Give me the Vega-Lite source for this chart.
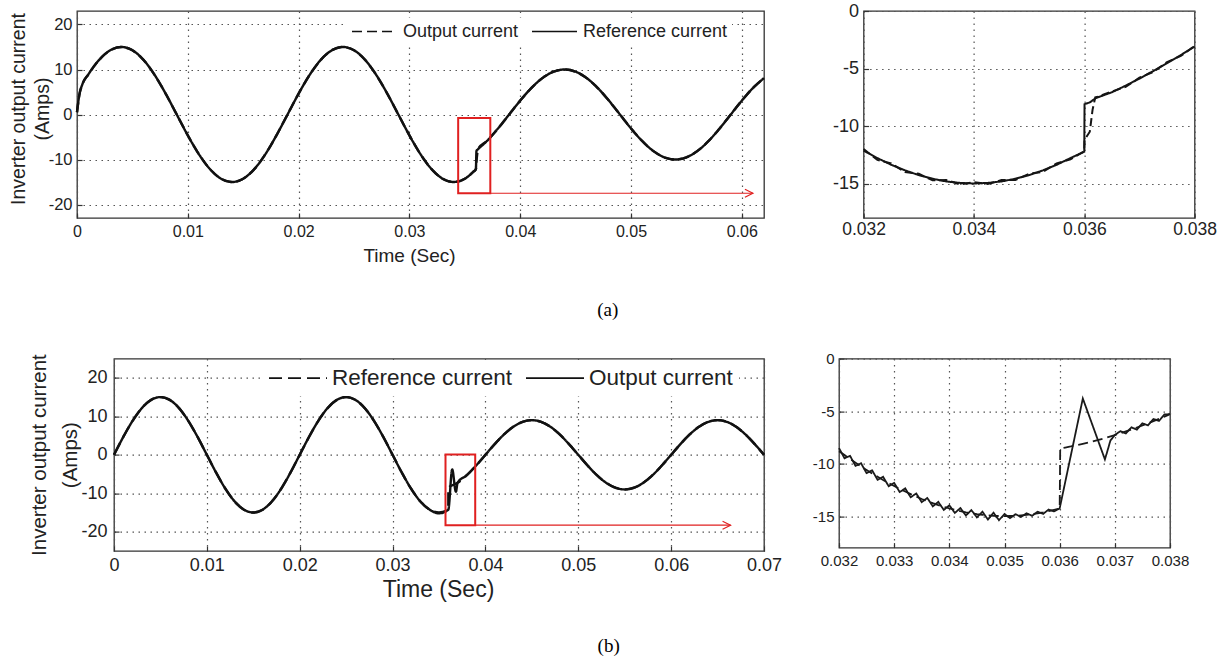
{
  "$schema": "https://vega.github.io/schema/vega-lite/v6.json",
  "background": "white",
  "padding": {"left": 7, "top": 1, "right": 0, "bottom": 0},
  "bounds": "flush",
  "spacing": 347.6,
  "resolve": {"scale": {"strokeDash": "independent"}, "legend": {"strokeDash": "independent"}},
  "config": {
    "font": "Liberation Sans",
    "view": {"stroke": "#333", "strokeWidth": 1.3},
    "axis": {
      "domain": false, "grid": true, "gridColor": "#555", "gridDash": [1.5, 4.5], "gridWidth": 1.2,
      "tickColor": "#333", "tickSize": -5, "tickWidth": 1.2,
      "labelColor": "#222", "titleColor": "#222", "labelFlush": false, "labelOverlap": false,
      "titleFontWeight": "normal"
    }
  },
  "datasets": {
    "mainA": [
      {"t": 0, "Output current": 0.5, "Reference current": 0.5},
      {"t": 0.0002, "Output current": 4.2, "Reference current": 4.2},
      {"t": 0.0005, "Output current": 6.81, "Reference current": 6.81},
      {"t": 0.001, "Output current": 8.82, "Reference current": 8.82},
      {"t": 0.002, "Output current": 12.14, "Reference current": 12.14},
      {"t": 0.003, "Output current": 14.27, "Reference current": 14.27},
      {"t": 0.004, "Output current": 15, "Reference current": 15},
      {"t": 0.005, "Output current": 14.27, "Reference current": 14.27},
      {"t": 0.006, "Output current": 12.14, "Reference current": 12.14},
      {"t": 0.007, "Output current": 8.82, "Reference current": 8.82},
      {"t": 0.008, "Output current": 4.64, "Reference current": 4.64},
      {"t": 0.009, "Output current": 0, "Reference current": 0},
      {"t": 0.010, "Output current": -4.64, "Reference current": -4.64},
      {"t": 0.011, "Output current": -8.82, "Reference current": -8.82},
      {"t": 0.012, "Output current": -12.14, "Reference current": -12.14},
      {"t": 0.013, "Output current": -14.27, "Reference current": -14.27},
      {"t": 0.014, "Output current": -15, "Reference current": -15},
      {"t": 0.015, "Output current": -14.27, "Reference current": -14.27},
      {"t": 0.016, "Output current": -12.14, "Reference current": -12.14},
      {"t": 0.017, "Output current": -8.82, "Reference current": -8.82},
      {"t": 0.018, "Output current": -4.64, "Reference current": -4.64},
      {"t": 0.019, "Output current": 0, "Reference current": 0},
      {"t": 0.020, "Output current": 4.64, "Reference current": 4.64},
      {"t": 0.021, "Output current": 8.82, "Reference current": 8.82},
      {"t": 0.022, "Output current": 12.14, "Reference current": 12.14},
      {"t": 0.023, "Output current": 14.27, "Reference current": 14.27},
      {"t": 0.024, "Output current": 15, "Reference current": 15},
      {"t": 0.025, "Output current": 14.27, "Reference current": 14.27},
      {"t": 0.026, "Output current": 12.14, "Reference current": 12.14},
      {"t": 0.027, "Output current": 8.82, "Reference current": 8.82},
      {"t": 0.028, "Output current": 4.64, "Reference current": 4.64},
      {"t": 0.029, "Output current": 0, "Reference current": 0},
      {"t": 0.030, "Output current": -4.64, "Reference current": -4.64},
      {"t": 0.031, "Output current": -8.82, "Reference current": -8.82},
      {"t": 0.032, "Output current": -12.14, "Reference current": -12.14},
      {"t": 0.033, "Output current": -14.27, "Reference current": -14.27},
      {"t": 0.034, "Output current": -15, "Reference current": -15},
      {"t": 0.035, "Output current": -14.27, "Reference current": -14.27},
      {"t": 0.0358, "Output current": -12.66, "Reference current": -12.66},
      {"t": 0.036, "Output current": -12.14, "Reference current": -12.14},
      {"t": 0.03605, "Output current": -10.5, "Reference current": -8.1},
      {"t": 0.0362, "Output current": -7.7, "Reference current": -7.7},
      {"t": 0.037, "Output current": -5.88, "Reference current": -5.88},
      {"t": 0.038, "Output current": -3.09, "Reference current": -3.09},
      {"t": 0.039, "Output current": 0, "Reference current": 0},
      {"t": 0.040, "Output current": 3.09, "Reference current": 3.09},
      {"t": 0.041, "Output current": 5.88, "Reference current": 5.88},
      {"t": 0.042, "Output current": 8.09, "Reference current": 8.09},
      {"t": 0.043, "Output current": 9.51, "Reference current": 9.51},
      {"t": 0.044, "Output current": 10, "Reference current": 10},
      {"t": 0.045, "Output current": 9.51, "Reference current": 9.51},
      {"t": 0.046, "Output current": 8.09, "Reference current": 8.09},
      {"t": 0.047, "Output current": 5.88, "Reference current": 5.88},
      {"t": 0.048, "Output current": 3.09, "Reference current": 3.09},
      {"t": 0.049, "Output current": 0, "Reference current": 0},
      {"t": 0.050, "Output current": -3.09, "Reference current": -3.09},
      {"t": 0.051, "Output current": -5.88, "Reference current": -5.88},
      {"t": 0.052, "Output current": -8.09, "Reference current": -8.09},
      {"t": 0.053, "Output current": -9.51, "Reference current": -9.51},
      {"t": 0.054, "Output current": -10, "Reference current": -10},
      {"t": 0.055, "Output current": -9.51, "Reference current": -9.51},
      {"t": 0.056, "Output current": -8.09, "Reference current": -8.09},
      {"t": 0.057, "Output current": -5.88, "Reference current": -5.88},
      {"t": 0.058, "Output current": -3.09, "Reference current": -3.09},
      {"t": 0.059, "Output current": 0, "Reference current": 0},
      {"t": 0.060, "Output current": 3.09, "Reference current": 3.09},
      {"t": 0.061, "Output current": 5.88, "Reference current": 5.88},
      {"t": 0.062, "Output current": 8.09, "Reference current": 8.09}
    ],
    "zoomA": [
      {"t": 0.032, "Output current": -12.0, "Reference current": -12.14},
      {"t": 0.03225, "Output current": -12.95, "Reference current": -12.79},
      {"t": 0.0325, "Output current": -13.25, "Reference current": -13.37},
      {"t": 0.03275, "Output current": -14.0, "Reference current": -13.86},
      {"t": 0.033, "Output current": -14.15, "Reference current": -14.27},
      {"t": 0.03325, "Output current": -14.72, "Reference current": -14.59},
      {"t": 0.0335, "Output current": -14.7, "Reference current": -14.82},
      {"t": 0.03375, "Output current": -15.08, "Reference current": -14.95},
      {"t": 0.034, "Output current": -14.88, "Reference current": -15},
      {"t": 0.03425, "Output current": -15.05, "Reference current": -14.95},
      {"t": 0.0345, "Output current": -14.7, "Reference current": -14.82},
      {"t": 0.03475, "Output current": -14.7, "Reference current": -14.59},
      {"t": 0.035, "Output current": -14.15, "Reference current": -14.27},
      {"t": 0.03525, "Output current": -13.98, "Reference current": -13.86},
      {"t": 0.0355, "Output current": -13.25, "Reference current": -13.37},
      {"t": 0.03575, "Output current": -12.9, "Reference current": -12.79},
      {"t": 0.036, "Output current": -12.2, "Reference current": -12.24},
      {"t": 0.036005, "Output current": -11.2, "Reference current": -8.1},
      {"t": 0.0361, "Output current": -10.5, "Reference current": -7.95},
      {"t": 0.03615, "Output current": -8.6, "Reference current": null},
      {"t": 0.0362, "Output current": -7.5, "Reference current": -7.6},
      {"t": 0.03625, "Output current": -7.45, "Reference current": -7.5},
      {"t": 0.0365, "Output current": -7.0, "Reference current": -7.07},
      {"t": 0.03675, "Output current": -6.6, "Reference current": -6.49},
      {"t": 0.037, "Output current": -5.8, "Reference current": -5.88},
      {"t": 0.03725, "Output current": -5.3, "Reference current": -5.22},
      {"t": 0.0375, "Output current": -4.45, "Reference current": -4.54},
      {"t": 0.03775, "Output current": -3.9, "Reference current": -3.83},
      {"t": 0.038, "Output current": -3.05, "Reference current": -3.09}
    ],
    "mainB": [
      {"t": 0, "Reference current": 0, "Output current": 0},
      {"t": 0.001, "Reference current": 4.64, "Output current": 4.64},
      {"t": 0.002, "Reference current": 8.82, "Output current": 8.82},
      {"t": 0.003, "Reference current": 12.14, "Output current": 12.14},
      {"t": 0.004, "Reference current": 14.27, "Output current": 14.27},
      {"t": 0.005, "Reference current": 15, "Output current": 15},
      {"t": 0.006, "Reference current": 14.27, "Output current": 14.27},
      {"t": 0.007, "Reference current": 12.14, "Output current": 12.14},
      {"t": 0.008, "Reference current": 8.82, "Output current": 8.82},
      {"t": 0.009, "Reference current": 4.64, "Output current": 4.64},
      {"t": 0.010, "Reference current": 0, "Output current": 0},
      {"t": 0.011, "Reference current": -4.64, "Output current": -4.64},
      {"t": 0.012, "Reference current": -8.82, "Output current": -8.82},
      {"t": 0.013, "Reference current": -12.14, "Output current": -12.14},
      {"t": 0.014, "Reference current": -14.27, "Output current": -14.27},
      {"t": 0.015, "Reference current": -15, "Output current": -15},
      {"t": 0.016, "Reference current": -14.27, "Output current": -14.27},
      {"t": 0.017, "Reference current": -12.14, "Output current": -12.14},
      {"t": 0.018, "Reference current": -8.82, "Output current": -8.82},
      {"t": 0.019, "Reference current": -4.64, "Output current": -4.64},
      {"t": 0.020, "Reference current": 0, "Output current": 0},
      {"t": 0.021, "Reference current": 4.64, "Output current": 4.64},
      {"t": 0.022, "Reference current": 8.82, "Output current": 8.82},
      {"t": 0.023, "Reference current": 12.14, "Output current": 12.14},
      {"t": 0.024, "Reference current": 14.27, "Output current": 14.27},
      {"t": 0.025, "Reference current": 15, "Output current": 15},
      {"t": 0.026, "Reference current": 14.27, "Output current": 14.27},
      {"t": 0.027, "Reference current": 12.14, "Output current": 12.14},
      {"t": 0.028, "Reference current": 8.82, "Output current": 8.82},
      {"t": 0.029, "Reference current": 4.64, "Output current": 4.64},
      {"t": 0.030, "Reference current": 0, "Output current": 0},
      {"t": 0.031, "Reference current": -4.64, "Output current": -4.64},
      {"t": 0.032, "Reference current": -8.82, "Output current": -8.82},
      {"t": 0.033, "Reference current": -12.14, "Output current": -12.14},
      {"t": 0.034, "Reference current": -14.27, "Output current": -14.27},
      {"t": 0.035, "Reference current": -15, "Output current": -15.2},
      {"t": 0.036, "Reference current": -14.27, "Output current": -14.27},
      {"t": 0.03601, "Reference current": -8.56, "Output current": null},
      {"t": 0.03642, "Reference current": null, "Output current": -3.8},
      {"t": 0.03682, "Reference current": null, "Output current": -9.6},
      {"t": 0.037, "Reference current": -7.28, "Output current": -7.28},
      {"t": 0.038, "Reference current": -5.29, "Output current": -5.29},
      {"t": 0.039, "Reference current": -2.78, "Output current": -2.78},
      {"t": 0.040, "Reference current": 0, "Output current": 0},
      {"t": 0.041, "Reference current": 2.78, "Output current": 2.78},
      {"t": 0.042, "Reference current": 5.29, "Output current": 5.29},
      {"t": 0.043, "Reference current": 7.28, "Output current": 7.28},
      {"t": 0.044, "Reference current": 8.56, "Output current": 8.56},
      {"t": 0.045, "Reference current": 9, "Output current": 9},
      {"t": 0.046, "Reference current": 8.56, "Output current": 8.56},
      {"t": 0.047, "Reference current": 7.28, "Output current": 7.28},
      {"t": 0.048, "Reference current": 5.29, "Output current": 5.29},
      {"t": 0.049, "Reference current": 2.78, "Output current": 2.78},
      {"t": 0.050, "Reference current": 0, "Output current": 0},
      {"t": 0.051, "Reference current": -2.78, "Output current": -2.78},
      {"t": 0.052, "Reference current": -5.29, "Output current": -5.29},
      {"t": 0.053, "Reference current": -7.28, "Output current": -7.28},
      {"t": 0.054, "Reference current": -8.56, "Output current": -8.56},
      {"t": 0.055, "Reference current": -9, "Output current": -9},
      {"t": 0.056, "Reference current": -8.56, "Output current": -8.56},
      {"t": 0.057, "Reference current": -7.28, "Output current": -7.28},
      {"t": 0.058, "Reference current": -5.29, "Output current": -5.29},
      {"t": 0.059, "Reference current": -2.78, "Output current": -2.78},
      {"t": 0.060, "Reference current": 0, "Output current": 0},
      {"t": 0.061, "Reference current": 2.78, "Output current": 2.78},
      {"t": 0.062, "Reference current": 5.29, "Output current": 5.29},
      {"t": 0.063, "Reference current": 7.28, "Output current": 7.28},
      {"t": 0.064, "Reference current": 8.56, "Output current": 8.56},
      {"t": 0.065, "Reference current": 9, "Output current": 9},
      {"t": 0.066, "Reference current": 8.56, "Output current": 8.56},
      {"t": 0.067, "Reference current": 7.28, "Output current": 7.28},
      {"t": 0.068, "Reference current": 5.29, "Output current": 5.29},
      {"t": 0.069, "Reference current": 2.78, "Output current": 2.78},
      {"t": 0.070, "Reference current": 0, "Output current": 0}
    ],
    "zoomB": [
      {"t": 0.0320, "Reference current": -8.82, "Output current": -8.52},
      {"t": 0.0321, "Reference current": -9.19, "Output current": -9.49},
      {"t": 0.0322, "Reference current": -9.56, "Output current": -9.26},
      {"t": 0.0323, "Reference current": -9.92, "Output current": -10.22},
      {"t": 0.0324, "Reference current": -10.27, "Output current": -9.97},
      {"t": 0.0325, "Reference current": -10.61, "Output current": -10.91},
      {"t": 0.0326, "Reference current": -10.94, "Output current": -10.64},
      {"t": 0.0327, "Reference current": -11.25, "Output current": -11.55},
      {"t": 0.0328, "Reference current": -11.56, "Output current": -11.26},
      {"t": 0.0329, "Reference current": -11.85, "Output current": -12.15},
      {"t": 0.0330, "Reference current": -12.14, "Output current": -11.84},
      {"t": 0.0331, "Reference current": -12.41, "Output current": -12.71},
      {"t": 0.0332, "Reference current": -12.66, "Output current": -12.36},
      {"t": 0.0333, "Reference current": -12.91, "Output current": -13.21},
      {"t": 0.0334, "Reference current": -13.14, "Output current": -12.84},
      {"t": 0.0335, "Reference current": -13.37, "Output current": -13.67},
      {"t": 0.0336, "Reference current": -13.57, "Output current": -13.27},
      {"t": 0.0337, "Reference current": -13.77, "Output current": -14.07},
      {"t": 0.0338, "Reference current": -13.95, "Output current": -13.65},
      {"t": 0.0339, "Reference current": -14.11, "Output current": -14.41},
      {"t": 0.0340, "Reference current": -14.27, "Output current": -13.97},
      {"t": 0.0341, "Reference current": -14.40, "Output current": -14.70},
      {"t": 0.0342, "Reference current": -14.53, "Output current": -14.23},
      {"t": 0.0343, "Reference current": -14.64, "Output current": -14.94},
      {"t": 0.0344, "Reference current": -14.73, "Output current": -14.43},
      {"t": 0.0345, "Reference current": -14.82, "Output current": -15.12},
      {"t": 0.0346, "Reference current": -14.88, "Output current": -14.58},
      {"t": 0.0347, "Reference current": -14.93, "Output current": -15.33},
      {"t": 0.0348, "Reference current": -14.97, "Output current": -14.67},
      {"t": 0.0349, "Reference current": -14.99, "Output current": -15.39},
      {"t": 0.0350, "Reference current": -15.00, "Output current": -14.80},
      {"t": 0.0351, "Reference current": -14.99, "Output current": -15.19},
      {"t": 0.0352, "Reference current": -14.97, "Output current": -14.82},
      {"t": 0.0353, "Reference current": -14.93, "Output current": -15.08},
      {"t": 0.0354, "Reference current": -14.88, "Output current": -14.73},
      {"t": 0.0355, "Reference current": -14.82, "Output current": -14.97},
      {"t": 0.0356, "Reference current": -14.73, "Output current": -14.58},
      {"t": 0.0357, "Reference current": -14.64, "Output current": -14.79},
      {"t": 0.0358, "Reference current": -14.53, "Output current": -14.38},
      {"t": 0.0359, "Reference current": -14.40, "Output current": -14.55},
      {"t": 0.0360, "Reference current": -14.27, "Output current": -14.27},
      {"t": 0.03601, "Reference current": -8.56, "Output current": null},
      {"t": 0.0361, "Reference current": -8.47, "Output current": null},
      {"t": 0.0362, "Reference current": -8.37, "Output current": null},
      {"t": 0.0364, "Reference current": -8.14, "Output current": null},
      {"t": 0.03642, "Reference current": null, "Output current": -3.8},
      {"t": 0.0366, "Reference current": -7.89, "Output current": null},
      {"t": 0.0368, "Reference current": -7.60, "Output current": null},
      {"t": 0.03682, "Reference current": null, "Output current": -9.6},
      {"t": 0.03686, "Reference current": null, "Output current": -8.9},
      {"t": 0.03692, "Reference current": null, "Output current": -7.8},
      {"t": 0.0370, "Reference current": -7.28, "Output current": -7.28},
      {"t": 0.0371, "Reference current": -7.11, "Output current": -6.91},
      {"t": 0.0372, "Reference current": -6.93, "Output current": -7.13},
      {"t": 0.0373, "Reference current": -6.75, "Output current": -6.55},
      {"t": 0.0374, "Reference current": -6.56, "Output current": -6.76},
      {"t": 0.0375, "Reference current": -6.36, "Output current": -6.16},
      {"t": 0.0376, "Reference current": -6.16, "Output current": -6.36},
      {"t": 0.0377, "Reference current": -5.95, "Output current": -5.75},
      {"t": 0.0378, "Reference current": -5.74, "Output current": -5.94},
      {"t": 0.0379, "Reference current": -5.52, "Output current": -5.32},
      {"t": 0.0380, "Reference current": -5.29, "Output current": -5.29}
    ]
  },
  "vconcat": [
    {
      "bounds": "flush",
      "spacing": 99.6,
      "resolve": {"scale": {"strokeDash": "independent"}, "legend": {"strokeDash": "independent"}},
      "hconcat": [
        {
          "width": 687, "height": 207,
          "layer": [
            {
              "data": {"name": "mainA"},
              "transform": [{"fold": ["Output current", "Reference current"], "as": ["series", "i"]}, {"filter": "datum.i != null"}],
              "mark": {"type": "line", "interpolate": "monotone", "strokeWidth": 2.4, "color": "#111", "invalid": "filter"},
              "encoding": {
                "x": {"field": "t", "type": "quantitative",
                  "scale": {"domain": [0, 0.062], "nice": false, "zero": false},
                  "axis": {"title": "Time (Sec)", "values": [0, 0.01, 0.02, 0.03, 0.04, 0.05, 0.06], "format": ".2~f",
                    "labelFontSize": 16, "labelPadding": 10,
                    "titleFontSize": 19, "titleX": 332, "titleY": 37,
                    "titleAlign": "center", "titleBaseline": "middle"}},
                "y": {"field": "i", "type": "quantitative",
                  "scale": {"domain": [-23, 23], "nice": false, "zero": false},
                  "axis": {"title": ["Inverter output current", "(Amps)"], "values": [-20, -10, 0, 10, 20],
                    "labelExpr": "datum.value < 0 ? '-' + (-datum.value) : '' + datum.value",
                    "labelFontSize": 16.5, "labelPadding": 10,
                    "titleFontSize": 19.5, "titleAngle": 270,
                    "titleX": -68, "titleY": 97.5, "titleAlign": "center", "titleBaseline": "top", "titleLineHeight": 24.5}},
                "strokeDash": {"field": "series", "type": "nominal",
                  "scale": {"domain": ["Output current", "Reference current"], "range": [[10, 5], [1, 0]]},
                  "legend": {"title": null, "orient": "none", "direction": "horizontal", "legendX": 270, "legendY": 7,
                    "fillColor": "white", "padding": 4, "clipHeight": 19, "symbolType": "stroke", "symbolSize": 2025,
                    "symbolStrokeColor": "#111", "symbolStrokeWidth": 1.6, "labelOffset": 5, "columnPadding": 12,
                    "labelFontSize": 18, "labelColor": "#222", "labelLimit": 300}}
              }
            },
            {
              "data": {"values": [{"t": 0.0344, "t2": 0.0373, "i": -0.8, "i2": -17.5}]},
              "mark": {"type": "rect", "fillOpacity": 0, "stroke": "#e02020", "strokeWidth": 2},
              "encoding": {"x": {"field": "t", "type": "quantitative"}, "x2": {"field": "t2"},
                "y": {"field": "i", "type": "quantitative"}, "y2": {"field": "i2"}}
            },
            {
              "data": {"values": [{"t": 0.0373, "t2": 0.061, "i": -17.5}]},
              "mark": {"type": "rule", "color": "#e02020", "strokeWidth": 1.2},
              "encoding": {"x": {"field": "t", "type": "quantitative"}, "x2": {"field": "t2"},
                "y": {"field": "i", "type": "quantitative"}}
            },
            {
              "data": {"values": [{"t": 0.061, "i": -17.5}]},
              "mark": {"type": "point", "shape": "M-1,-0.5L0,0L-1,0.5", "filled": false, "color": "#e02020", "size": 256, "strokeWidth": 1.2, "opacity": 1},
              "encoding": {"x": {"field": "t", "type": "quantitative"}, "y": {"field": "i", "type": "quantitative"}}
            },
            {
              "data": {"values": [{"t": 0.0479, "i": -43.4, "label": "(a)"}]},
              "mark": {"type": "text", "font": "Liberation Serif", "fontSize": 19, "color": "#000"},
              "encoding": {"x": {"field": "t", "type": "quantitative"}, "y": {"field": "i", "type": "quantitative"},
                "text": {"field": "label"}}
            }
          ]
        },
        {
          "width": 331, "height": 207,
          "data": {"name": "zoomA"},
          "transform": [{"fold": ["Output current", "Reference current"], "as": ["series", "i"]}, {"filter": "datum.i != null"}],
          "mark": {"type": "line", "strokeWidth": 2, "color": "#151515", "invalid": "filter"},
          "encoding": {
            "x": {"field": "t", "type": "quantitative",
              "scale": {"domain": [0.032, 0.038], "nice": false, "zero": false},
              "axis": {"title": null, "values": [0.032, 0.034, 0.036, 0.038], "format": ".3f",
                "labelFontSize": 17.5, "labelPadding": 7}},
            "y": {"field": "i", "type": "quantitative",
              "scale": {"domain": [-18, 0], "nice": false, "zero": false},
              "axis": {"title": null, "values": [-15, -10, -5, 0],
                "labelExpr": "datum.value < 0 ? '-' + (-datum.value) : '' + datum.value",
                "labelFontSize": 18, "labelPadding": 10}},
            "strokeDash": {"field": "series", "type": "nominal",
              "scale": {"domain": ["Output current", "Reference current"], "range": [[8, 4], [1, 0]]},
              "legend": null}
          }
        }
      ]
    },
    {
      "bounds": "flush",
      "spacing": 36,
      "resolve": {"scale": {"strokeDash": "independent"}, "legend": {"strokeDash": "independent"}},
      "hconcat": [
        {
          "width": 1, "height": 1,
          "view": {"stroke": null},
          "data": {"values": [{"a": 0}]},
          "mark": {"type": "point", "opacity": 0}
        },
        {
          "bounds": "flush",
          "spacing": 75,
          "resolve": {"scale": {"strokeDash": "independent"}, "legend": {"strokeDash": "independent"}},
          "hconcat": [
            {
              "width": 650, "height": 192.4,
              "layer": [
                {
                  "data": {"name": "mainB"},
                  "transform": [{"fold": ["Reference current", "Output current"], "as": ["series", "i"]}, {"filter": "datum.i != null"}],
                  "mark": {"type": "line", "interpolate": "monotone", "strokeWidth": 2.4, "color": "#111", "invalid": "filter"},
                  "encoding": {
                    "x": {"field": "t", "type": "quantitative",
                      "scale": {"domain": [0, 0.07], "nice": false, "zero": false},
                      "axis": {"title": "Time (Sec)", "values": [0, 0.01, 0.02, 0.03, 0.04, 0.05, 0.06, 0.07], "format": ".2~f",
                        "labelFontSize": 18, "labelPadding": 10,
                        "titleFontSize": 23, "titleX": 324, "titleY": 38,
                        "titleAlign": "center", "titleBaseline": "middle"}},
                    "y": {"field": "i", "type": "quantitative",
                      "scale": {"domain": [-25, 25], "nice": false, "zero": false},
                      "axis": {"title": ["Inverter output current", "(Amps)"], "values": [-20, -10, 0, 10, 20],
                        "labelExpr": "datum.value < 0 ? '-' + (-datum.value) : '' + datum.value",
                        "labelFontSize": 18, "labelPadding": 12,
                        "titleFontSize": 20.5, "titleAngle": 270,
                        "titleX": -85, "titleY": 96, "titleAlign": "center", "titleBaseline": "top", "titleLineHeight": 31}},
                    "strokeDash": {"field": "series", "type": "nominal",
                      "scale": {"domain": ["Reference current", "Output current"], "range": [[13, 6], [1, 0]]},
                      "legend": {"title": null, "orient": "none", "direction": "horizontal", "legendX": 148, "legendY": 1.5,
                        "fillColor": "white", "padding": 6, "clipHeight": 24, "symbolType": "stroke", "symbolSize": 3364,
                        "symbolStrokeColor": "#111", "symbolStrokeWidth": 1.6, "labelOffset": 4, "columnPadding": 12,
                        "labelFontSize": 22.5, "labelColor": "#222", "labelLimit": 300}}
                  }
                },
                {
                  "data": {"values": [{"t": 0.0357, "t2": 0.0389, "i": 0.1, "i2": -18.3}]},
                  "mark": {"type": "rect", "fillOpacity": 0, "stroke": "#e02020", "strokeWidth": 2},
                  "encoding": {"x": {"field": "t", "type": "quantitative"}, "x2": {"field": "t2"},
                    "y": {"field": "i", "type": "quantitative"}, "y2": {"field": "i2"}}
                },
                {
                  "data": {"values": [{"t": 0.0389, "t2": 0.0664, "i": -18.3}]},
                  "mark": {"type": "rule", "color": "#e02020", "strokeWidth": 1.2},
                  "encoding": {"x": {"field": "t", "type": "quantitative"}, "x2": {"field": "t2"},
                    "y": {"field": "i", "type": "quantitative"}}
                },
                {
                  "data": {"values": [{"t": 0.0664, "i": -18.3}]},
                  "mark": {"type": "point", "shape": "M-1,-0.5L0,0L-1,0.5", "filled": false, "color": "#e02020", "size": 256, "strokeWidth": 1.2, "opacity": 1},
                  "encoding": {"x": {"field": "t", "type": "quantitative"}, "y": {"field": "i", "type": "quantitative"}}
                },
                {
                  "data": {"values": [{"t": 0.05327, "i": -49.7, "label": "(b)"}]},
                  "mark": {"type": "text", "font": "Liberation Serif", "fontSize": 19, "color": "#000"},
                  "encoding": {"x": {"field": "t", "type": "quantitative"}, "y": {"field": "i", "type": "quantitative"},
                    "text": {"field": "label"}}
                }
              ]
            },
            {
              "width": 331, "height": 189,
              "data": {"name": "zoomB"},
              "transform": [{"fold": ["Reference current", "Output current"], "as": ["series", "i"]}, {"filter": "datum.i != null"}],
              "mark": {"type": "line", "strokeWidth": 1.8, "color": "#1a1a1a", "invalid": "filter"},
              "encoding": {
                "x": {"field": "t", "type": "quantitative",
                  "scale": {"domain": [0.032, 0.038], "nice": false, "zero": false},
                  "axis": {"title": null, "values": [0.032, 0.033, 0.034, 0.035, 0.036, 0.037, 0.038], "format": ".3f",
                    "labelFontSize": 15, "labelPadding": 11}},
                "y": {"field": "i", "type": "quantitative",
                  "scale": {"domain": [-18, 0], "nice": false, "zero": false},
                  "axis": {"title": null, "values": [-15, -10, -5, 0],
                    "labelExpr": "datum.value < 0 ? '-' + (-datum.value) : '' + datum.value",
                    "labelFontSize": 15, "labelPadding": 10}},
                "strokeDash": {"field": "series", "type": "nominal",
                  "scale": {"domain": ["Reference current", "Output current"], "range": [[10, 5], [1, 0]]},
                  "legend": null}
              }
            }
          ]
        }
      ]
    }
  ]
}
